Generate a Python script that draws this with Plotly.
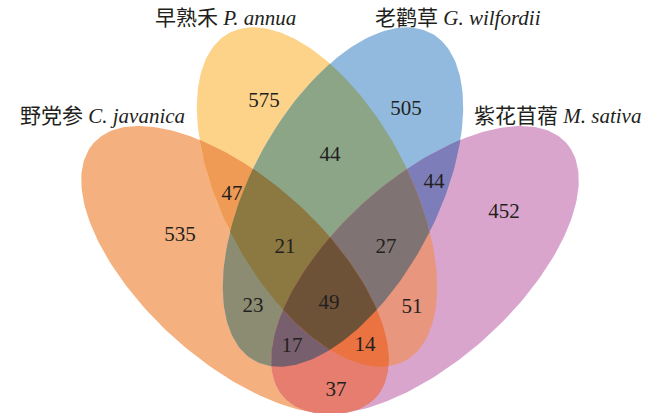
import numpy as np
import plotly.graph_objects as go

# four species (sets), Chinese + latin name
species_cn = ["野党参", "早熟禾", "老鹳草", "紫花苜蓿"]
species_latin = ["C. javanica", "P. annua", "G. wilfordii", "M. sativa"]

# venn regions: letters = which sets (A..D in order above), with counts
regions = ["A", "B", "C", "D", "AB", "BC", "CD", "AC", "BD", "AD",
           "ABC", "BCD", "ACD", "ABD", "ABCD"]
counts = [535, 575, 505, 452, 47, 44, 44, 23, 51, 37,
          21, 27, 17, 14, 49]

# ---- geometry / style (pixel space, y down) ----
# cx, cy, semi-major, semi-minor, angle (deg)
ellipses = {
    "A": (235, 270, 190, 91, 42.0),
    "B": (317, 197, 186, 93, 61.8),
    "C": (343, 197, 186, 93, 118.2),
    "D": (425, 270, 190, 91, 138.0),
}
region_colors = {
    "A": "#F4B07E", "B": "#FDD38A", "C": "#92BADE", "D": "#DAA5CC",
    "AB": "#F09B55", "BC": "#8CA587", "CD": "#7D7DB9", "AC": "#8C8C73",
    "BD": "#E8967D", "AD": "#E67D6E", "ABC": "#8C7841", "BCD": "#807373",
    "ACD": "#785F6E", "ABD": "#EB7341", "ABCD": "#6E5237",
}
count_pos = {
    "A": (180, 236), "B": (264, 102), "C": (406, 110), "D": (504, 213),
    "AB": (232, 195), "BC": (330, 156), "CD": (434, 183), "AC": (253, 307),
    "BD": (412, 308), "AD": (336, 391), "ABC": (285, 248), "BCD": (386, 248),
    "ACD": (292, 347), "ABD": (365, 346), "ABCD": (329, 304),
}
label_pos = [(102, 116), (225, 18), (458, 18), (557, 116)]


def ellipse_pts(cx, cy, a, b, ang, n=240):
    t = np.linspace(0, 2 * np.pi, n, endpoint=False)
    r = np.radians(ang)
    x = cx + a * np.cos(t) * np.cos(r) - b * np.sin(t) * np.sin(r)
    y = cy + a * np.cos(t) * np.sin(r) + b * np.sin(t) * np.cos(r)
    return list(zip(x, y))


def clip(subject, clipper):
    # Sutherland-Hodgman, clipper is convex
    n = len(clipper)
    area = sum(clipper[i][0] * clipper[(i + 1) % n][1] - clipper[(i + 1) % n][0] * clipper[i][1]
               for i in range(n))
    s = 1 if area > 0 else -1

    def side(p, a, b):
        return s * ((b[0] - a[0]) * (p[1] - a[1]) - (b[1] - a[1]) * (p[0] - a[0]))

    out = subject
    for i in range(n):
        a, b = clipper[i], clipper[(i + 1) % n]
        inp, out = out, []
        if not inp:
            break
        prev = inp[-1]
        for cur in inp:
            sc, sp = side(cur, a, b), side(prev, a, b)
            if sc >= 0:
                if sp < 0:
                    t = sp / (sp - sc)
                    out.append((prev[0] + t * (cur[0] - prev[0]), prev[1] + t * (cur[1] - prev[1])))
                out.append(cur)
            elif sp >= 0:
                t = sp / (sp - sc)
                out.append((prev[0] + t * (cur[0] - prev[0]), prev[1] + t * (cur[1] - prev[1])))
            prev = cur
    return out


polys = {k: ellipse_pts(*v) for k, v in ellipses.items()}

fig = go.Figure()

# painter's order: single sets first, then larger intersections on top
for reg in sorted(regions, key=len):
    poly = polys[reg[0]]
    for k in reg[1:]:
        poly = clip(poly, polys[k])
    xs = [p[0] for p in poly] + [poly[0][0]]
    ys = [p[1] for p in poly] + [poly[0][1]]
    fig.add_trace(go.Scatter(
        x=xs, y=ys, mode="lines", fill="toself",
        fillcolor=region_colors[reg],
        line=dict(width=0), hoverinfo="skip",
    ))

fig.add_trace(go.Scatter(
    x=[count_pos[r][0] for r in regions],
    y=[count_pos[r][1] for r in regions],
    text=[str(c) for c in counts], mode="text",
    textfont=dict(family="Liberation Serif, Times New Roman, serif", size=21, color="#231F20"),
    hoverinfo="skip",
))

for (x, y), cn, lat in zip(label_pos, species_cn, species_latin):
    fig.add_annotation(
        x=x, y=y, text=f"{cn} <i>{lat}</i>", showarrow=False,
        font=dict(family="Liberation Serif, Noto Sans CJK SC, serif", size=21, color="#231F20"),
    )

fig.update_layout(
    width=655, height=413, margin=dict(l=0, r=0, t=0, b=0),
    paper_bgcolor="white", plot_bgcolor="white", showlegend=False,
    xaxis=dict(range=[0, 655], visible=False, fixedrange=True),
    yaxis=dict(range=[413, 0], visible=False, fixedrange=True),
)

# drop the default body margin so the figure sits at the page corner
fig.write_html("out.html", config={"displayModeBar": False},
               post_script="document.body.style.margin = '0';")
